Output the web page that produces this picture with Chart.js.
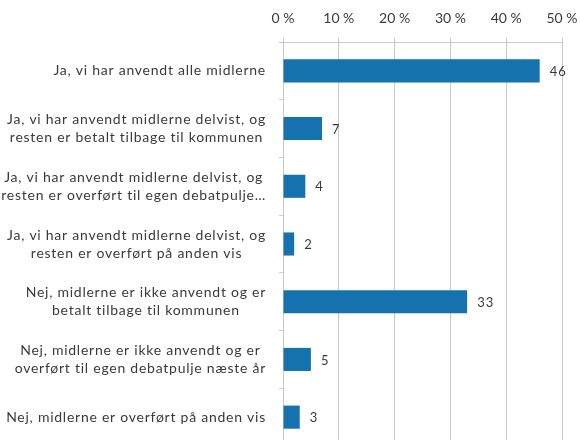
<!DOCTYPE html>
<html>
<head>
<meta charset="utf-8">
<script src="https://cdn.jsdelivr.net/npm/chart.js@4"></script>
<style>
  html, body { margin: 0; padding: 0; background: #fff; overflow: hidden; }
  #wrap { position: relative; width: 580px; height: 446px; }
</style>
</head>
<body>
<div id="wrap"><canvas id="c"></canvas></div>
<script>
const categories = [
  ["Ja, vi har anvendt alle midlerne"],
  ["Ja, vi har anvendt midlerne delvist, og", "resten er betalt tilbage til kommunen"],
  ["Ja, vi har anvendt midlerne delvist, og", "resten er overført til egen debatpulje…"],
  ["Ja, vi har anvendt midlerne delvist, og", "resten er overført på anden vis"],
  ["Nej, midlerne er ikke anvendt og er", "betalt tilbage til kommunen"],
  ["Nej, midlerne er ikke anvendt og er", "overført til egen debatpulje næste år"],
  ["Nej, midlerne er overført på anden vis"]
];
const values = [46, 7, 4, 2, 33, 5, 3];
const xTicks = [0, 10, 20, 30, 40, 50];

const FONT = "Lato, 'Open Sans', sans-serif";
const TEXT = '#3a3a3a';
const GRID = '#c9c9c9';
const BAR = '#1572ae';

const categoryLabelPlugin = {
  id: 'catLabels',
  afterDraw(chart) {
    const ctx = chart.ctx;
    const ys = chart.scales.y;
    const right = chart.chartArea.left - 17;
    const lh = 18;
    ctx.save();
    ctx.font = '14px ' + FONT;
    ctx.letterSpacing = '0.75px';
    ctx.fillStyle = TEXT;
    ctx.textAlign = 'center';
    ctx.textBaseline = 'middle';
    categories.forEach((lines, i) => {
      const yc = ys.getPixelForValue(i);
      const w = Math.max(...lines.map(l => ctx.measureText(l).width));
      const cx = right - w / 2;
      const y0 = yc - (lines.length - 1) * lh / 2;
      lines.forEach((l, k) => ctx.fillText(l, cx, y0 + k * lh));
    });
    ctx.restore();
  }
};

const valueLabelPlugin = {
  id: 'valLabels',
  afterDatasetsDraw(chart) {
    const ctx = chart.ctx;
    const meta = chart.getDatasetMeta(0);
    ctx.save();
    ctx.font = '13px ' + FONT;
    ctx.letterSpacing = '1px';
    ctx.fillStyle = TEXT;
    ctx.textAlign = 'left';
    ctx.textBaseline = 'middle';
    meta.data.forEach((bar, i) => {
      ctx.fillText(String(values[i]), bar.x + 10, bar.y + 1);
    });
    ctx.restore();
  }
};

new Chart(document.getElementById('c'), {
  type: 'bar',
  data: {
    labels: categories,
    datasets: [{
      data: values,
      backgroundColor: BAR,
      borderWidth: 0,
      barPercentage: 0.4,
      categoryPercentage: 1.0
    }]
  },
  options: {
    indexAxis: 'y',
    responsive: true,
    maintainAspectRatio: false,
    animation: false,
    layout: { padding: { left: 0, right: 18, top: 0, bottom: 0 } },
    plugins: {
      legend: { display: false },
      tooltip: { enabled: false }
    },
    scales: {
      x: {
        position: 'top',
        min: 0,
        max: 50,
        afterBuildTicks(scale) { scale.ticks = xTicks.map(v => ({ value: v })); },
        afterFit(scale) { scale.height = 42; scale.paddingLeft = 0; scale.paddingRight = 0; },
        border: { display: true, color: GRID, width: 1 },
        grid: { color: GRID, lineWidth: 1, drawTicks: true, tickLength: 4, tickColor: GRID },
        ticks: {
          padding: 11,
          color: TEXT,
          font: { family: FONT, size: 14 },
          callback: v => v + ' %'
        }
      },
      y: {
        afterFit(scale) { scale.width = 283; },
        border: { display: true, color: GRID, width: 1 },
        grid: { drawOnChartArea: false, drawTicks: true, tickLength: 4, tickColor: GRID, offset: true },
        ticks: { display: false }
      }
    }
  },
  plugins: [categoryLabelPlugin, valueLabelPlugin]
});
</script>
</body>
</html>
